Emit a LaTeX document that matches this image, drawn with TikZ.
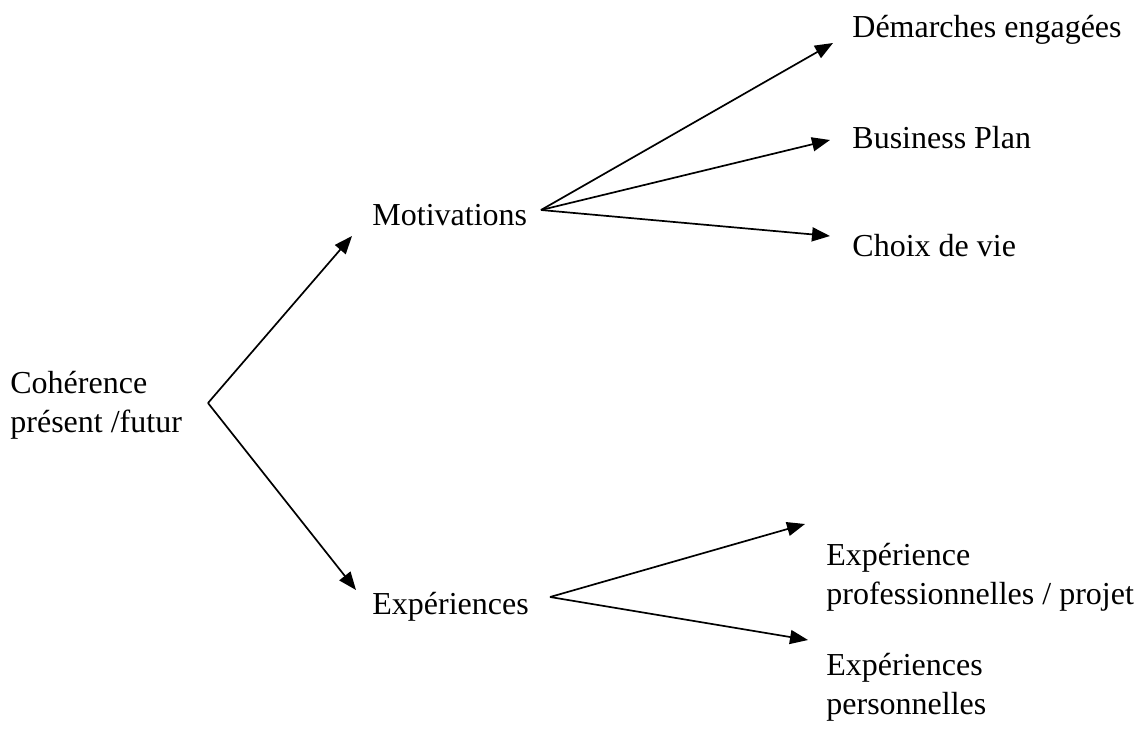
\documentclass[tikz,border=0pt]{standalone}
\usepackage{fontspec}
\setmainfont{Liberation Serif}
\usetikzlibrary{arrows.meta}

\begin{document}
\begin{tikzpicture}[x=0.5pt, y=-0.5pt,
    lbl/.style={anchor=base west, inner sep=0pt, align=left, font=\fontsize{16}{19.5}\selectfont},
    arr/.style={-{Triangle[length=9pt, width=7pt]}, line width=0.85pt}]

    \useasboundingbox (0,0) rectangle (1145,729);

    % labels (multi-line ones sit on their last baseline)
    \node[lbl] (coh) at (10,432) {Cohérence\\présent /futur};
    \node[lbl] (motiv) at (372,225) {Motivations};
    \node[lbl] (exper) at (372,614) {Expériences};
    \node[lbl] (dem) at (852,37) {Démarches engagées};
    \node[lbl] (bp) at (852,148) {Business Plan};
    \node[lbl] (choix) at (852,256) {Choix de vie};
    \node[lbl] (pro) at (826,604) {Expérience\\professionnelles / projet};
    \node[lbl] (perso) at (826,714) {Expériences\\personnelles};

    % branch points
    \coordinate (cfork) at ([xshift=99pt, yshift=14.5pt]coh.base west);
    \coordinate (mfork) at ([xshift=84.5pt, yshift=7.5pt]motiv.base west);
    \coordinate (efork) at ([xshift=89pt, yshift=8.5pt]exper.base west);

    % first level
    \draw[arr] (cfork) -- ([xshift=-10pt, yshift=-5.5pt]motiv.base west);
    \draw[arr] (cfork) -- ([xshift=-8pt, yshift=12pt]exper.base west);

    % second level
    \foreach \n/\dx/\dy in {dem/-9.5/-3, bp/-11/4, choix/-11/10} {
        \draw[arr] (mfork) -- ([xshift=\dx pt, yshift=\dy pt]\n.base west);
    }
    \foreach \n/\dx/\dy in {pro/-10.5/40, perso/-9/37} {
        \draw[arr] (efork) -- ([xshift=\dx pt, yshift=\dy pt]\n.base west);
    }

\end{tikzpicture}
\end{document}
